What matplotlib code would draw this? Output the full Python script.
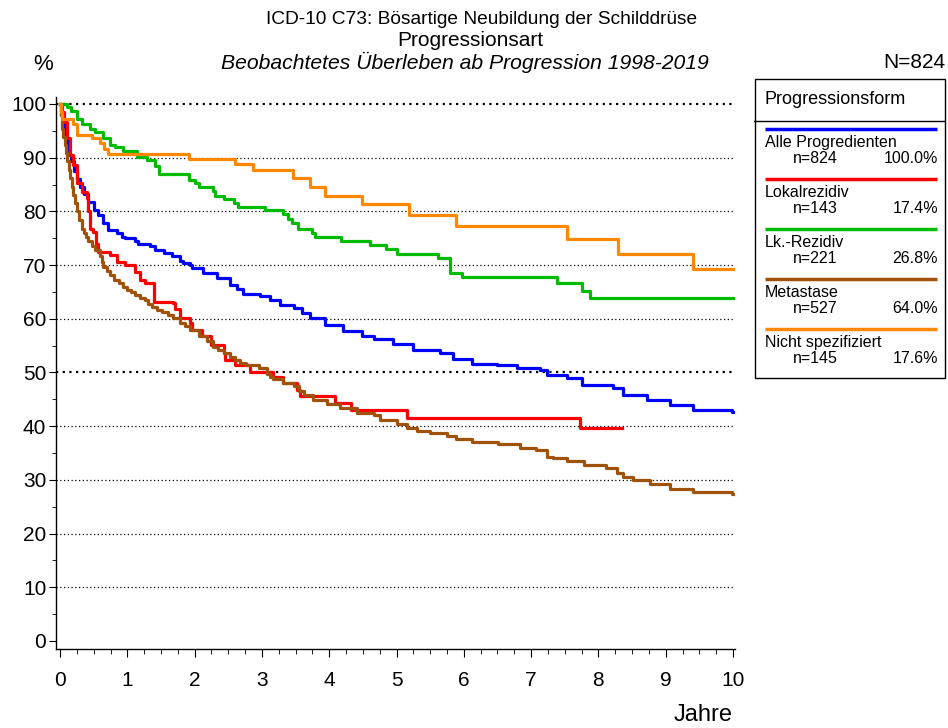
import numpy as np
import matplotlib
matplotlib.use("Agg")
import matplotlib.pyplot as plt
from matplotlib.patches import Rectangle

plt.rcParams['font.family'] = ['Liberation Sans', 'DejaVu Sans']

# --- data (years, % survival, step curves) ---
t_alle = [0, 0.02, 0.05, 0.08, 0.11, 0.14, 0.17, 0.21, 0.25, 0.30, 0.35, 0.42, 0.50, 0.57, 0.64,
          0.72, 0.84, 0.92, 0.97, 1.11, 1.16, 1.34, 1.41, 1.55, 1.66, 1.78, 1.83, 1.93, 1.96, 2.13,
          2.33, 2.53, 2.63, 2.72, 2.97, 3.12, 3.27, 3.47, 3.60, 3.71, 3.94, 4.21, 4.48, 4.66, 4.95,
          5.25, 5.65, 5.84, 6.12, 6.49, 6.79, 7.13, 7.23, 7.53, 7.75, 8.22, 8.37, 8.72, 9.06, 9.40,
          9.98, 10.0]
s_alle = [100, 98, 96, 94, 91.7, 90.5, 89.3, 87.5, 86.0, 84.5, 83.3, 81.8, 80.3, 79.3, 77.8,
          76.5, 75.9, 75.3, 75.0, 74.5, 74.0, 73.5, 72.8, 72.3, 71.6, 70.8, 70.4, 70.0, 69.4, 68.5,
          67.5, 66.3, 65.5, 64.7, 64.2, 63.5, 62.6, 62.0, 61.0, 60.1, 58.8, 57.8, 56.8, 56.3, 55.3,
          54.2, 53.7, 52.6, 51.5, 51.3, 50.9, 50.5, 49.5, 48.9, 47.7, 47.1, 45.8, 44.9, 43.9, 43.1,
          42.7, 42.7]

t_lokal = [0, 0.03, 0.06, 0.10, 0.15, 0.20, 0.25, 0.32, 0.40, 0.42, 0.44, 0.49, 0.53, 0.57, 0.74,
           0.84, 0.97, 1.11, 1.19, 1.26, 1.40, 1.68, 1.71, 1.78, 1.93, 1.96, 2.11, 2.25, 2.43, 2.45,
           2.60, 2.82, 3.17, 3.32, 3.52, 3.57, 4.08, 4.33, 5.16, 7.73, 8.35]
s_lokal = [100, 98.5, 96.7, 93.6, 90.5, 88.6, 85.2, 83.7, 82.4, 80.0, 76.8, 76.2, 74.0, 72.5, 71.9,
           70.6, 70.0, 68.8, 67.2, 66.6, 63.2, 62.9, 61.9, 60.1, 59.2, 57.9, 56.7, 55.1, 53.6, 52.3,
           51.4, 50.1, 49.2, 48.1, 46.7, 45.6, 44.4, 43.0, 41.6, 39.7, 39.7]

t_lk = [0, 0.10, 0.16, 0.25, 0.32, 0.45, 0.52, 0.64, 0.74, 0.82, 0.94, 1.14, 1.29, 1.41, 1.47,
        1.92, 2.01, 2.07, 2.27, 2.30, 2.43, 2.58, 2.65, 3.05, 3.32, 3.39, 3.44, 3.54, 3.74, 3.79,
        4.18, 4.60, 4.84, 5.00, 5.61, 5.80, 5.98, 7.38, 7.75, 7.88, 10.0]
s_lk = [100, 99.5, 98.7, 97.2, 96.2, 95.3, 94.7, 93.7, 92.4, 91.9, 91.2, 90.2, 89.6, 88.5, 87.0,
        85.8, 85.2, 84.6, 83.8, 82.9, 82.3, 81.6, 80.9, 80.3, 79.5, 78.6, 77.9, 76.8, 76.0, 75.3,
        74.5, 73.7, 72.9, 72.1, 71.3, 68.6, 67.7, 66.6, 65.2, 63.8, 63.8]

t_meta = [0, 0.01, 0.03, 0.05, 0.07, 0.09, 0.11, 0.13, 0.15, 0.175, 0.20, 0.225, 0.25, 0.285, 0.32,
          0.35, 0.38, 0.42, 0.47, 0.52, 0.59, 0.62, 0.64, 0.70, 0.74, 0.80, 0.87, 0.93, 0.99, 1.05,
          1.11, 1.19, 1.26, 1.31, 1.36, 1.44, 1.51, 1.60, 1.68, 1.78, 1.85, 1.93, 2.06, 2.18, 2.28,
          2.35, 2.43, 2.52, 2.60, 2.68, 2.77, 2.95, 3.07, 3.12, 3.17, 3.32, 3.47, 3.55, 3.62, 3.76,
          3.96, 4.16, 4.41, 4.66, 4.75, 5.00, 5.15, 5.30, 5.50, 5.75, 5.89, 6.12, 6.51, 6.84, 7.08,
          7.23, 7.33, 7.53, 7.78, 8.12, 8.27, 8.37, 8.52, 8.77, 9.06, 9.40, 9.98, 10.0]
s_meta = [100, 98, 95.4, 93.8, 92.4, 90.8, 89.3, 87.7, 86.2, 84.6, 83.1, 81.5, 80.0, 78.4, 76.8,
          76.0, 75.3, 74.5, 73.6, 72.8, 71.6, 70.6, 69.7, 68.9, 68.2, 67.3, 66.6, 66.0, 65.4, 64.9,
          64.4, 63.9, 63.5, 62.8, 62.1, 61.7, 61.3, 60.7, 60.1, 59.2, 58.6, 57.9, 56.8, 55.9, 54.8,
          54.2, 53.6, 52.9, 52.3, 51.8, 51.4, 50.8, 49.8, 49.2, 48.7, 48.0, 47.4, 46.6, 45.8, 44.9,
          44.1, 43.3, 42.5, 42.1, 41.2, 40.4, 39.6, 39.1, 38.7, 38.2, 37.7, 37.1, 36.7, 35.9, 35.6,
          34.3, 34.0, 33.6, 32.8, 32.3, 31.3, 30.6, 30.0, 29.2, 28.3, 27.8, 27.3, 27.3]

t_nicht = [0, 0.01, 0.03, 0.20, 0.25, 0.47, 0.59, 0.66, 0.72, 1.92, 2.60, 2.87, 3.46, 3.72, 3.94,
           4.49, 5.19, 5.89, 7.53, 8.29, 9.40, 10.0]
s_nicht = [100, 98.5, 97.2, 96.2, 94.3, 93.6, 92.7, 91.6, 90.6, 89.7, 88.8, 87.7, 86.2, 84.6, 82.9,
           81.3, 79.3, 77.2, 74.8, 72.1, 69.3, 69.3]

gruppen = ['Alle Progredienten', 'Lokalrezidiv', 'Lk.-Rezidiv', 'Metastase', 'Nicht spezifiziert']
n_werte = [824, 143, 221, 527, 145]
anteile = ['100.0%', '17.4%', '26.8%', '64.0%', '17.6%']
farben = ['#0000ff', '#ff0000', '#00bb00', '#a0520a', '#ff8800']
kurven = [(t_alle, s_alle), (t_lokal, s_lokal), (t_lk, s_lk), (t_meta, s_meta), (t_nicht, s_nicht)]

W, H = 948, 728
fig = plt.figure(figsize=(W / 100, H / 100), dpi=100)
ax = fig.add_axes([56 / W, 1 - 649 / H, 679 / W, 552 / H])

# grid lines
for v in range(10, 101, 10):
    lw = 1.6 if v in (50, 100) else 0.9
    ax.axhline(v, color='black', lw=lw, linestyle=(0, (1, 2)), zorder=1)

for (t, s), c in zip(kurven, farben):
    ax.plot(t, s, drawstyle='steps-post', color=c, lw=2.3, zorder=3)

ax.set_xlim(-0.06, 10.03)
ax.set_ylim(-1.5, 101.3)
ax.set_xticks(range(0, 11))
ax.set_xticks(np.arange(0, 10.01, 0.25), minor=True)
ax.set_yticks(range(0, 101, 10))
ax.set_yticks(range(5, 100, 10), minor=True)
ax.tick_params(axis='both', which='major', labelsize=15, direction='out', color='black')
ax.tick_params(axis='x', which='major', length=6, pad=10)
ax.tick_params(axis='x', which='minor', length=3.5)
ax.tick_params(axis='y', which='major', length=5, pad=2)
ax.tick_params(axis='y', which='minor', length=3)
for sp in ['top', 'right']:
    ax.spines[sp].set_visible(False)
for sp in ['left', 'bottom']:
    ax.spines[sp].set_linewidth(1.0)

# titles and labels
fig.text(482 / W, 1 - 19 / H, 'ICD-10 C73: Bösartige Neubildung der Schilddrüse',
         ha='center', va='center', fontsize=13.8)
fig.text(470 / W, 1 - 40 / H, 'Progressionsart', ha='center', va='center', fontsize=15)
fig.text(465 / W, 1 - 62 / H, 'Beobachtetes Überleben ab Progression 1998-2019',
         ha='center', va='center', fontsize=15.2, style='italic')
fig.text(43 / W, 1 - 64 / H, '%', ha='center', va='center', fontsize=16)
fig.text(945 / W, 1 - 62 / H, 'N=824', ha='right', va='center', fontsize=15)
fig.text(733 / W, 1 - 715 / H, 'Jahre', ha='right', va='center', fontsize=17)

# legend box
lx0, lx1, ly0, ly1 = 754, 946, 78, 378
lax = fig.add_axes([lx0 / W, 1 - ly1 / H, (lx1 - lx0) / W, (ly1 - ly0) / H])
lax.set_xlim(lx0, lx1)
lax.set_ylim(ly1, ly0)
lax.axis('off')
lax.add_patch(Rectangle((lx0 + 0.5, ly0 + 0.5), lx1 - lx0 - 1, ly1 - ly0 - 1,
                        fill=False, edgecolor='black', lw=1.0, clip_on=False))
lax.plot([lx0, lx1], [121, 121], color='black', lw=1.0)
lax.text(765, 99, 'Progressionsform', ha='left', va='center', fontsize=13)
for i, (g, n, a, c) in enumerate(zip(gruppen, n_werte, anteile, farben)):
    y = 128.5 + 50 * i
    lax.plot([765, 937], [y, y], color=c, lw=2.5, solid_capstyle='butt')
    lax.text(765, y + 14, g, ha='left', va='center', fontsize=11.5)
    lax.text(793, y + 30, f'n={n}', ha='left', va='center', fontsize=11.5)
    lax.text(938, y + 30, a, ha='right', va='center', fontsize=11.5)

fig.savefig('out.png', dpi=100)
